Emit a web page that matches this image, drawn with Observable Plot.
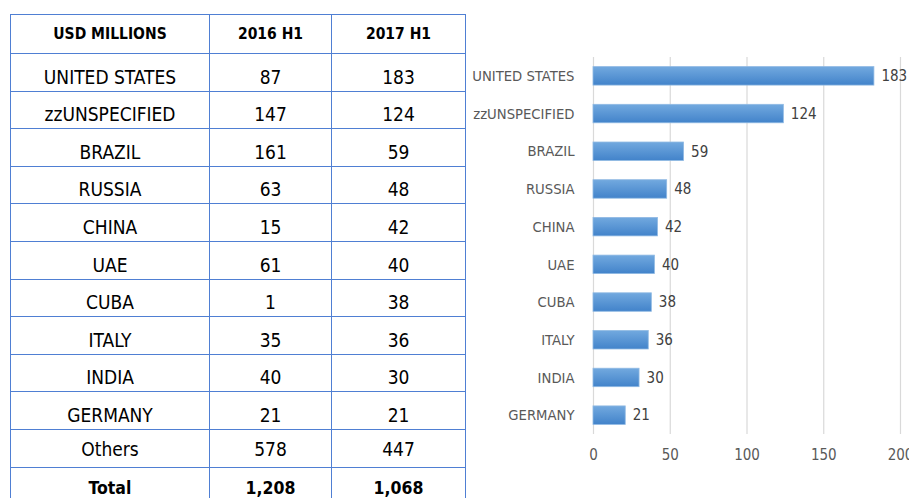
<!DOCTYPE html>
<html>
<head>
<meta charset="utf-8">
<script src="https://cdn.jsdelivr.net/npm/d3@7"></script>
<script src="https://cdn.jsdelivr.net/npm/@observablehq/plot@0.6"></script>
<style>
  html, body { margin: 0; padding: 0; background: #fff; width: 909px; height: 498px; overflow: hidden; }
  body { position: relative; font-family: "Liberation Sans Narrow", "DejaVu Sans Condensed", "Liberation Sans", sans-serif; }
  #tbl { position: absolute; left: 10px; top: 14px; border-collapse: collapse; table-layout: fixed; width: 455px; color: #000; }
  #tbl td { border: 1.5px solid #4f7fd3; text-align: center; padding: 0 0 4px 0; vertical-align: bottom; font-size: 19px; line-height: 1; height: 37.6px; box-sizing: border-box; }
  #tbl tr.head td { font-weight: bold; font-size: 15.5px; vertical-align: middle; height: 39px; padding: 1px 0 0 0; }
  #tbl tr.others td { padding-bottom: 8px; }
  #tbl tr.total td { font-weight: bold; font-size: 17.5px; padding-bottom: 7px; }
  #chart { position: absolute; left: 460px; top: 0; width: 460px; height: 498px; }
  #chart svg { max-width: none !important; }
</style>
</head>
<body>
<table id="tbl">
  <colgroup><col style="width:199px"><col style="width:122px"><col style="width:134px"></colgroup>
  <tbody></tbody>
</table>
<div id="chart"></div>
<script>
// ---- data ----
const headers = ["USD MILLIONS", "2016 H1", "2017 H1"];
const countries = ["UNITED STATES", "zzUNSPECIFIED", "BRAZIL", "RUSSIA", "CHINA", "UAE", "CUBA", "ITALY", "INDIA", "GERMANY"];
const values2016 = [87, 147, 161, 63, 15, 61, 1, 35, 40, 21];
const values2017 = [183, 124, 59, 48, 42, 40, 38, 36, 30, 21];
const othersLabel = "Others";
const others2016 = 578;
const others2017 = 447;
const totalLabel = "Total";
const total2016 = "1,208";
const total2017 = "1,068";
const xTicks = [0, 50, 100, 150, 200];

// ---- table ----
const tbody = document.querySelector("#tbl tbody");
function addRow(cells, cls) {
  const tr = document.createElement("tr");
  if (cls) tr.className = cls;
  for (const c of cells) {
    const td = document.createElement("td");
    td.textContent = c;
    tr.appendChild(td);
  }
  tbody.appendChild(tr);
}
addRow(headers, "head");
countries.forEach((c, i) => addRow([c, values2016[i], values2017[i]]));
addRow([othersLabel, others2016, others2017], "others");
addRow([totalLabel, total2016, total2017], "total");

// ---- chart ----
const data = countries.map((c, i) => ({country: c, value: values2017[i]}));
const font = '"Liberation Sans Narrow", "DejaVu Sans Condensed", "Liberation Sans", sans-serif';
const chart = Plot.plot({
  width: 460,
  height: 498,
  marginLeft: 133,
  marginRight: 20,
  marginTop: 57,
  marginBottom: 64,
  style: {fontFamily: font, fontSize: "14.7px", color: "#595959", background: "transparent", overflow: "visible", maxWidth: "none"},
  x: {domain: [0, 200], axis: null},
  y: {domain: countries, paddingInner: 0.51, paddingOuter: 0.255, round: false, label: null, tickSize: 0, tickPadding: 19},
  marks: [
    Plot.gridX(xTicks, {stroke: "#d9d9d9", strokeOpacity: 1, strokeWidth: 1.2}),
    Plot.axisX(xTicks, {tickSize: 0, tickPadding: 15, label: null, fontSize: 15, fill: "#595959"}),
    Plot.barX(data, {x: "value", y: "country", fill: "url(#barGrad)", stroke: "#8fb9e3", strokeWidth: 0.8}),
    Plot.text(data, {x: "value", y: "country", text: d => String(d.value), textAnchor: "start", dx: 7, fontSize: 15, fill: "#404040"})
  ]
});
chart.style.maxWidth = "none";
// gradient definition for bars
const ns = "http://www.w3.org/2000/svg";
const defs = document.createElementNS(ns, "defs");
const grad = document.createElementNS(ns, "linearGradient");
grad.setAttribute("id", "barGrad");
grad.setAttribute("x1", "0"); grad.setAttribute("y1", "0");
grad.setAttribute("x2", "0"); grad.setAttribute("y2", "1");
[["0%", "#72a9df"], ["100%", "#4283ca"]].forEach(([o, c]) => {
  const s = document.createElementNS(ns, "stop");
  s.setAttribute("offset", o); s.setAttribute("stop-color", c);
  grad.appendChild(s);
});
defs.appendChild(grad);
chart.insertBefore(defs, chart.firstChild);
document.getElementById("chart").appendChild(chart);
</script>
</body>
</html>
